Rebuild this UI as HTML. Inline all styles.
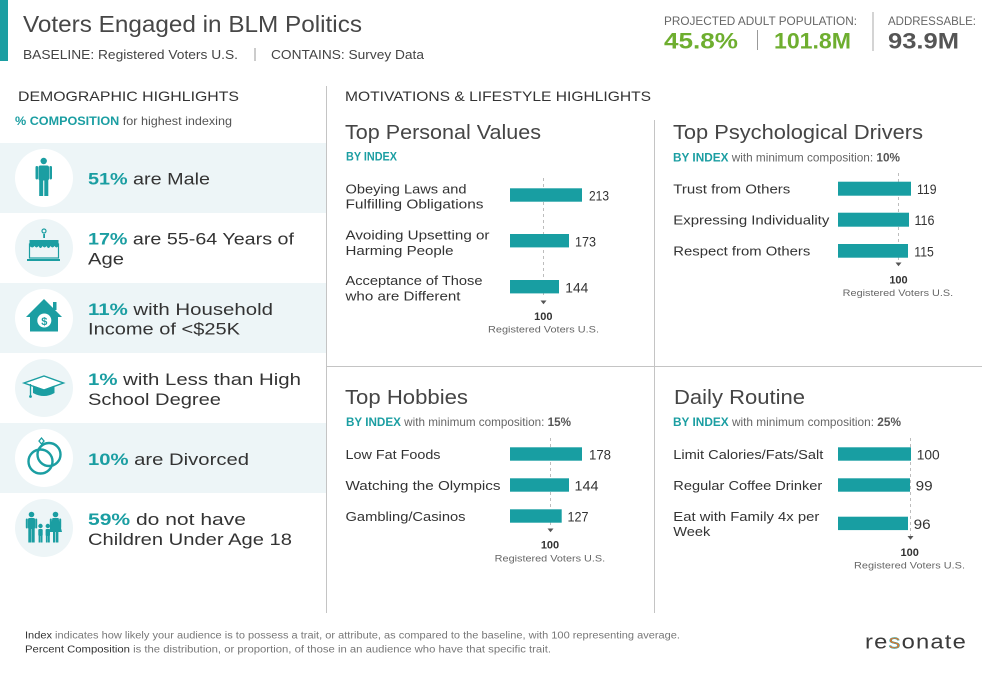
<!DOCTYPE html>
<html>
<head>
<meta charset="utf-8">
<style>
  html,body{margin:0;padding:0;background:#fff;}
  body{width:992px;height:677px;overflow:hidden;}
  svg{display:block;font-family:"Liberation Sans",Arial,sans-serif;}
</style>
</head>
<body>
<svg width="992" height="677" viewBox="0 0 992 677" xmlns="http://www.w3.org/2000/svg">
  <rect x="0" y="0" width="992" height="677" fill="#fff"/>

  <!-- Header -->
  <rect x="0" y="0" width="8" height="61" fill="#1b9ea2"/>
  <text x="23" y="32" font-size="23" fill="#474747" textLength="339" lengthAdjust="spacingAndGlyphs">Voters Engaged in BLM Politics</text>
  <text x="23" y="59" font-size="13" fill="#444" textLength="215" lengthAdjust="spacingAndGlyphs">BASELINE: Registered Voters U.S.</text>
  <line x1="255" y1="48" x2="255" y2="61" stroke="#999" stroke-width="1"/>
  <text x="271" y="59" font-size="13" fill="#444" textLength="153" lengthAdjust="spacingAndGlyphs">CONTAINS: Survey Data</text>

  <text x="664" y="25" font-size="11.5" fill="#666" textLength="193" lengthAdjust="spacingAndGlyphs">PROJECTED ADULT POPULATION:</text>
  <text x="664" y="48.3" font-size="22" font-weight="bold" fill="#6eae2f" textLength="74" lengthAdjust="spacingAndGlyphs">45.8%</text>
  <line x1="757.5" y1="30" x2="757.5" y2="50" stroke="#999" stroke-width="1"/>
  <text x="774" y="48.3" font-size="22" font-weight="bold" fill="#6eae2f" textLength="77" lengthAdjust="spacingAndGlyphs">101.8M</text>
  <line x1="873" y1="12" x2="873" y2="51" stroke="#aaa" stroke-width="1"/>
  <text x="888" y="25" font-size="11.5" fill="#666" textLength="88" lengthAdjust="spacingAndGlyphs">ADDRESSABLE:</text>
  <text x="888" y="48.3" font-size="22" font-weight="bold" fill="#555" textLength="71" lengthAdjust="spacingAndGlyphs">93.9M</text>

  <!-- Section headers -->
  <text x="18" y="101" font-size="14" fill="#333" textLength="221" lengthAdjust="spacingAndGlyphs">DEMOGRAPHIC HIGHLIGHTS</text>
  <text x="15" y="125" font-size="12" fill="#555" textLength="217" lengthAdjust="spacingAndGlyphs"><tspan fill="#1b9ea2" font-weight="bold">% COMPOSITION</tspan> for highest indexing</text>
  <text x="345" y="101" font-size="14" fill="#333" textLength="306" lengthAdjust="spacingAndGlyphs">MOTIVATIONS &amp; LIFESTYLE HIGHLIGHTS</text>

  <!-- Dividers -->
  <line x1="326.5" y1="86" x2="326.5" y2="613" stroke="#c4c4c4" stroke-width="1"/>
  <line x1="654.5" y1="120" x2="654.5" y2="613" stroke="#c4c4c4" stroke-width="1"/>
  <line x1="327" y1="366.5" x2="982" y2="366.5" stroke="#c4c4c4" stroke-width="1"/>

  <!-- Demographic rows -->
  <rect x="0" y="143" width="326" height="70" fill="#edf5f7"/>
  <rect x="0" y="283" width="326" height="70" fill="#edf5f7"/>
  <rect x="0" y="423" width="326" height="70" fill="#edf5f7"/>

  <circle cx="44" cy="178" r="29" fill="#fff"/>
  <circle cx="44" cy="248" r="29" fill="#edf5f7"/>
  <circle cx="44" cy="318" r="29" fill="#fff"/>
  <circle cx="44" cy="388" r="29" fill="#edf5f7"/>
  <circle cx="44" cy="458" r="29" fill="#fff"/>
  <circle cx="44" cy="528" r="29" fill="#edf5f7"/>

  <!-- Icon: male -->
  <g fill="#1b9ea2">
    <circle cx="43.7" cy="161" r="3.2"/>
    <rect x="38.5" y="165.5" width="10.5" height="15" rx="2"/>
    <rect x="35.5" y="166" width="2.6" height="13.5" rx="1.2"/>
    <rect x="49.4" y="166" width="2.6" height="13.5" rx="1.2"/>
    <rect x="39.2" y="179" width="4" height="17"/>
    <rect x="44.3" y="179" width="4" height="17"/>
  </g>

  <!-- Icon: cake -->
  <g>
    <circle cx="44" cy="231" r="2" fill="none" stroke="#1b9ea2" stroke-width="1.2"/>
    <rect x="43.2" y="234" width="1.8" height="4" fill="#1b9ea2"/>
    <path d="M29.5 240 h29 v6 q-2 3 -4 0 q-2 3 -4 0 q-2 4 -4 0 q-2 3 -4 0 q-2 4 -4 0 q-2 3 -4 0 q-2 3 -5 0 z" fill="#1b9ea2"/>
    <rect x="29.5" y="244" width="29" height="14" fill="none" stroke="#1b9ea2" stroke-width="1.2"/>
    <rect x="27" y="259" width="33" height="2" fill="#1b9ea2"/>
  </g>

  <!-- Icon: house -->
  <g>
    <path d="M26 317 L44 299 L62 317 L58 317 L58 331.5 L30 331.5 L30 317 Z" fill="#1b9ea2"/>
    <rect x="53" y="302" width="3.5" height="8" fill="#1b9ea2"/>
    <circle cx="44.3" cy="320.5" r="7" fill="#fff"/>
    <text x="44.3" y="325" font-size="11" font-weight="bold" fill="#1b9ea2" text-anchor="middle">$</text>
  </g>

  <!-- Icon: grad cap -->
  <g>
    <path d="M24 383 L44 376 L63.5 383 L44 390 Z" fill="#fff" stroke="#1b9ea2" stroke-width="1.4"/>
    <path d="M33 385.5 L44 389.5 L54.5 385.5 L54.5 393 Q44 399 33 393 Z" fill="#1b9ea2"/>
    <line x1="30.5" y1="384" x2="30.5" y2="396" stroke="#1b9ea2" stroke-width="1.3"/>
    <circle cx="30.5" cy="396.5" r="1.4" fill="#1b9ea2"/>
  </g>

  <!-- Icon: rings -->
  <g fill="none" stroke="#1b9ea2" stroke-width="2.4">
    <circle cx="40.5" cy="461.5" r="12"/>
    <circle cx="49" cy="454.5" r="11.5"/>
    <path d="M39 441 l2.5 -3 l2.5 3 l-2.5 3 z" stroke-width="1.3"/>
  </g>

  <!-- Icon: family -->
  <g fill="#1b9ea2">
    <circle cx="31.5" cy="514.5" r="2.8"/>
    <rect x="28" y="518" width="7" height="11" rx="1.5"/>
    <rect x="25.8" y="518.5" width="2" height="10" rx="1"/>
    <rect x="35.2" y="518.5" width="2" height="10" rx="1"/>
    <rect x="28.3" y="528" width="3" height="14.5"/>
    <rect x="31.7" y="528" width="3" height="14.5"/>

    <circle cx="55.5" cy="514.5" r="2.8"/>
    <path d="M52.5 518 h6 l3.5 14 h-13 z"/>
    <rect x="49.8" y="518.5" width="2" height="10" rx="1"/>
    <rect x="59.2" y="518.5" width="2" height="10" rx="1"/>
    <rect x="53" y="531" width="2.4" height="11.5"/>
    <rect x="56" y="531" width="2.4" height="11.5"/>

    <circle cx="40.5" cy="526" r="2.2"/>
    <rect x="38.3" y="529" width="4.4" height="7" rx="1"/>
    <rect x="38.6" y="535" width="1.8" height="7.5"/>
    <rect x="40.7" y="535" width="1.8" height="7.5"/>

    <circle cx="47.8" cy="526" r="2.2"/>
    <rect x="45.6" y="529" width="4.4" height="7" rx="1"/>
    <rect x="45.9" y="535" width="1.8" height="7.5"/>
    <rect x="48" y="535" width="1.8" height="7.5"/>
  </g>

  <!-- Demographic text -->
  <g font-size="17" fill="#333">
    <text x="88" y="184.7" textLength="122" lengthAdjust="spacingAndGlyphs"><tspan fill="#1b9ea2" font-weight="bold">51%</tspan> are Male</text>
    <text x="88" y="244.3" textLength="206" lengthAdjust="spacingAndGlyphs"><tspan fill="#1b9ea2" font-weight="bold">17%</tspan> are 55-64 Years of</text>
    <text x="88" y="264.3" textLength="36" lengthAdjust="spacingAndGlyphs">Age</text>
    <text x="88" y="315" textLength="185" lengthAdjust="spacingAndGlyphs"><tspan fill="#1b9ea2" font-weight="bold">11%</tspan> with Household</text>
    <text x="88" y="334.5" textLength="152" lengthAdjust="spacingAndGlyphs">Income of &lt;$25K</text>
    <text x="88" y="385" textLength="213" lengthAdjust="spacingAndGlyphs"><tspan fill="#1b9ea2" font-weight="bold">1%</tspan> with Less than High</text>
    <text x="88" y="405" textLength="133" lengthAdjust="spacingAndGlyphs">School Degree</text>
    <text x="88" y="465" textLength="161" lengthAdjust="spacingAndGlyphs"><tspan fill="#1b9ea2" font-weight="bold">10%</tspan> are Divorced</text>
    <text x="88" y="525" textLength="158" lengthAdjust="spacingAndGlyphs"><tspan fill="#1b9ea2" font-weight="bold">59%</tspan> do not have</text>
    <text x="88" y="545" textLength="204" lengthAdjust="spacingAndGlyphs">Children Under Age 18</text>
  </g>

  <!-- Quadrant titles -->
  <g font-size="20" fill="#454545">
    <text x="345" y="139" textLength="196" lengthAdjust="spacingAndGlyphs">Top Personal Values</text>
    <text x="673" y="139" textLength="250" lengthAdjust="spacingAndGlyphs">Top Psychological Drivers</text>
    <text x="345" y="404" textLength="123" lengthAdjust="spacingAndGlyphs">Top Hobbies</text>
    <text x="674" y="404" textLength="131" lengthAdjust="spacingAndGlyphs">Daily Routine</text>
  </g>
  <g font-size="12" fill="#666">
    <text x="346" y="160.7" font-weight="bold" fill="#1b9ea2" textLength="51" lengthAdjust="spacingAndGlyphs">BY INDEX</text>
    <text x="673" y="161.7" textLength="227" lengthAdjust="spacingAndGlyphs"><tspan font-weight="bold" fill="#1b9ea2">BY INDEX</tspan> with minimum composition: <tspan font-weight="bold" fill="#555">10%</tspan></text>
    <text x="346" y="426" textLength="225" lengthAdjust="spacingAndGlyphs"><tspan font-weight="bold" fill="#1b9ea2">BY INDEX</tspan> with minimum composition: <tspan font-weight="bold" fill="#555">15%</tspan></text>
    <text x="673" y="426" textLength="228" lengthAdjust="spacingAndGlyphs"><tspan font-weight="bold" fill="#1b9ea2">BY INDEX</tspan> with minimum composition: <tspan font-weight="bold" fill="#555">25%</tspan></text>
  </g>

  <!-- Labels -->
  <g font-size="13" fill="#333">
    <text x="345.5" y="193.3" textLength="121" lengthAdjust="spacingAndGlyphs">Obeying Laws and</text>
    <text x="345.5" y="208.7" textLength="138" lengthAdjust="spacingAndGlyphs">Fulfilling Obligations</text>
    <text x="345.5" y="239.3" textLength="144" lengthAdjust="spacingAndGlyphs">Avoiding Upsetting or</text>
    <text x="345.5" y="255" textLength="108" lengthAdjust="spacingAndGlyphs">Harming People</text>
    <text x="345.5" y="285" textLength="137" lengthAdjust="spacingAndGlyphs">Acceptance of Those</text>
    <text x="345.5" y="300.7" textLength="115" lengthAdjust="spacingAndGlyphs">who are Different</text>

    <text x="673.3" y="193.3" textLength="117" lengthAdjust="spacingAndGlyphs">Trust from Others</text>
    <text x="673.3" y="224.3" textLength="156" lengthAdjust="spacingAndGlyphs">Expressing Individuality</text>
    <text x="673.3" y="255.7" textLength="137" lengthAdjust="spacingAndGlyphs">Respect from Others</text>

    <text x="345.5" y="459" textLength="95" lengthAdjust="spacingAndGlyphs">Low Fat Foods</text>
    <text x="345.5" y="490" textLength="155" lengthAdjust="spacingAndGlyphs">Watching the Olympics</text>
    <text x="345.5" y="521" textLength="120" lengthAdjust="spacingAndGlyphs">Gambling/Casinos</text>

    <text x="673.3" y="459" textLength="150" lengthAdjust="spacingAndGlyphs">Limit Calories/Fats/Salt</text>
    <text x="673.3" y="490" textLength="149" lengthAdjust="spacingAndGlyphs">Regular Coffee Drinker</text>
    <text x="673.3" y="521" textLength="146" lengthAdjust="spacingAndGlyphs">Eat with Family 4x per</text>
    <text x="673.3" y="536" textLength="37" lengthAdjust="spacingAndGlyphs">Week</text>
  </g>

  <!-- Dashed reference lines -->
  <g stroke="#bdbdbd" stroke-width="1" stroke-dasharray="3,3">
    <line x1="543.5" y1="178" x2="543.5" y2="298"/>
    <line x1="898.5" y1="173" x2="898.5" y2="261"/>
    <line x1="550.5" y1="438" x2="550.5" y2="528"/>
    <line x1="910.5" y1="438" x2="910.5" y2="536"/>
  </g>

  <!-- Bars -->
  <g fill="#189ea2">
    <rect x="510" y="188.3" width="72" height="13.4"/>
    <rect x="510" y="234" width="59" height="13.4"/>
    <rect x="510" y="280" width="49" height="13.4"/>

    <rect x="838" y="181.7" width="73" height="14"/>
    <rect x="838" y="212.7" width="71" height="14"/>
    <rect x="838" y="244" width="70" height="13.7"/>

    <rect x="510" y="447.3" width="72" height="13.4"/>
    <rect x="510" y="478.3" width="59" height="13.4"/>
    <rect x="510" y="509.3" width="51.7" height="13.4"/>

    <rect x="838" y="447.3" width="73" height="13.4"/>
    <rect x="838" y="478.3" width="72" height="13.4"/>
    <rect x="838" y="516.7" width="70" height="13.4"/>
  </g>

  <!-- Values -->
  <g font-size="14" fill="#333">
    <text x="589" y="200.7" textLength="20" lengthAdjust="spacingAndGlyphs">213</text>
    <text x="575" y="246.3" textLength="21" lengthAdjust="spacingAndGlyphs">173</text>
    <text x="565.3" y="292.3" textLength="23" lengthAdjust="spacingAndGlyphs">144</text>

    <text x="917" y="194" textLength="19.5" lengthAdjust="spacingAndGlyphs">119</text>
    <text x="914.5" y="225" textLength="20" lengthAdjust="spacingAndGlyphs">116</text>
    <text x="914.3" y="256.3" textLength="19.5" lengthAdjust="spacingAndGlyphs">115</text>

    <text x="589" y="459.5" textLength="22" lengthAdjust="spacingAndGlyphs">178</text>
    <text x="574.5" y="490.5" textLength="24" lengthAdjust="spacingAndGlyphs">144</text>
    <text x="567.5" y="521.5" textLength="21" lengthAdjust="spacingAndGlyphs">127</text>

    <text x="916.7" y="459.5" textLength="23" lengthAdjust="spacingAndGlyphs">100</text>
    <text x="915.7" y="490.5" textLength="17" lengthAdjust="spacingAndGlyphs">99</text>
    <text x="913.7" y="529" textLength="17" lengthAdjust="spacingAndGlyphs">96</text>
  </g>

  <!-- Arrows and baselines -->
  <g fill="#555">
    <path d="M540.5 300.5 h6 l-3 3.8 z"/>
    <path d="M895.5 262.5 h6 l-3 3.8 z"/>
    <path d="M547.5 528.5 h6 l-3 3.8 z"/>
    <path d="M907.5 536 h6 l-3 3.8 z"/>
  </g>
  <g font-size="11" font-weight="bold" fill="#333" text-anchor="middle">
    <text x="543.3" y="320">100</text>
    <text x="898.5" y="283.3">100</text>
    <text x="550" y="548.3">100</text>
    <text x="909.7" y="556">100</text>
  </g>
  <g font-size="9.5" fill="#666">
    <text x="488" y="332.7" textLength="111" lengthAdjust="spacingAndGlyphs">Registered Voters U.S.</text>
    <text x="842.7" y="296" textLength="110.5" lengthAdjust="spacingAndGlyphs">Registered Voters U.S.</text>
    <text x="494.7" y="561.7" textLength="110.5" lengthAdjust="spacingAndGlyphs">Registered Voters U.S.</text>
    <text x="854" y="568.3" textLength="111" lengthAdjust="spacingAndGlyphs">Registered Voters U.S.</text>
  </g>

  <!-- Footer -->
  <g font-size="10" fill="#777">
    <text x="25" y="638.5" textLength="655" lengthAdjust="spacingAndGlyphs"><tspan fill="#333">Index</tspan> indicates how likely your audience is to possess a trait, or attribute, as compared to the baseline, with 100 representing average.</text>
    <text x="25" y="652.5" textLength="526" lengthAdjust="spacingAndGlyphs"><tspan fill="#333">Percent Composition</tspan> is the distribution, or proportion, of those in an audience who have that specific trait.</text>
  </g>

  <!-- Logo -->
  <text x="865" y="648.5" font-size="20" fill="#3a3a3a" textLength="102" lengthAdjust="spacingAndGlyphs" letter-spacing="1">re<tspan fill="#e8742a" stroke="#1b9ea2" stroke-width="0.4">s</tspan>onate</text>
</svg>
</body>
</html>
